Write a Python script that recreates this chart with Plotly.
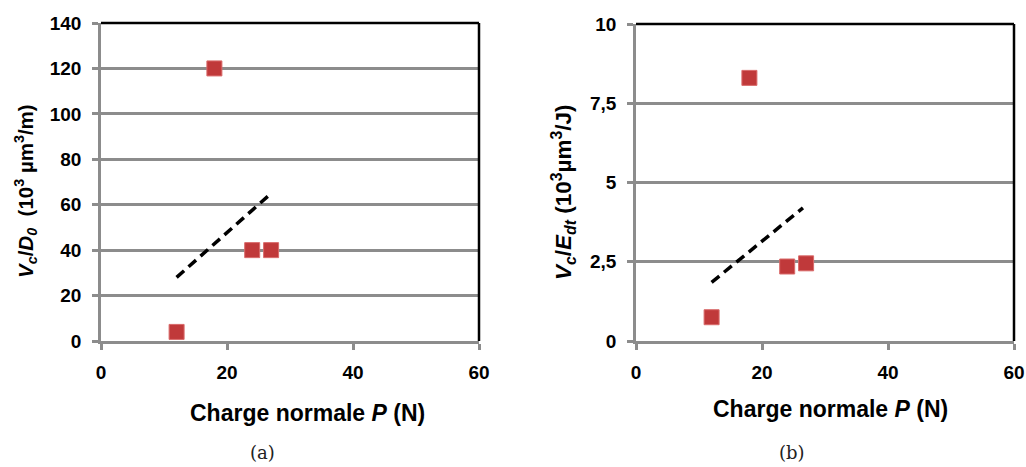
import plotly.graph_objects as go

# Data
P_points = [12, 18, 24, 27]
vc_d0 = [4, 120, 40, 40]
vc_edt = [0.75, 8.3, 2.35, 2.45]

trend_a_x = [12, 27]
trend_a_y = [28, 65]
trend_b_x = [12, 26.5]
trend_b_y = [1.85, 4.2]

x_ticks = [0, 20, 40, 60]
ya_ticks = [0, 20, 40, 60, 80, 100, 120, 140]
yb_ticks = [0, 2.5, 5, 7.5, 10]
yb_labels = ["0", "2,5", "5", "7,5", "10"]

W, H = 1026, 467
def px(x):
    return x / W
def py(y):
    return 1 - y / H

marker = dict(symbol="square", size=15, color="#c0393a",
              line=dict(color="#d96a6a", width=1))
trend_line = dict(color="black", width=3.5, dash="10px,6px")

fig = go.Figure()
fig.add_trace(go.Scatter(x=P_points, y=vc_d0, mode="markers", marker=marker,
                         xaxis="x", yaxis="y", showlegend=False))
fig.add_trace(go.Scatter(x=trend_a_x, y=trend_a_y, mode="lines", line=trend_line,
                         xaxis="x", yaxis="y", showlegend=False))
fig.add_trace(go.Scatter(x=P_points, y=vc_edt, mode="markers", marker=marker,
                         xaxis="x2", yaxis="y2", showlegend=False))
fig.add_trace(go.Scatter(x=trend_b_x, y=trend_b_y, mode="lines", line=trend_line,
                         xaxis="x2", yaxis="y2", showlegend=False))

tickfont = dict(family="Liberation Sans", size=19, color="black")
grid = "#8c8c8c"
common_x = dict(range=[0, 60], tickvals=x_ticks, showgrid=False, zeroline=False,
                showline=True, linecolor=grid, linewidth=2.5, automargin=False,
                ticks="outside", ticklen=6, tickwidth=2.5, tickcolor=grid,
                tickfont=tickfont, ticklabelstandoff=6)
common_y = dict(showgrid=True, gridcolor=grid, gridwidth=2.5, zeroline=False,
                showline=True, linecolor=grid, linewidth=2.5, automargin=False,
                ticks="outside", ticklen=6, tickwidth=2.5, tickcolor=grid,
                tickfont=tickfont, ticklabelstandoff=7)

fig.update_layout(
    width=W, height=H,
    margin=dict(l=0, r=0, t=0, b=0),
    paper_bgcolor="white", plot_bgcolor="white",
    xaxis=dict(domain=[px(101), px(479)], anchor="y", **common_x),
    yaxis=dict(domain=[py(341), py(23)], anchor="x", range=[0, 140],
               tickvals=ya_ticks, ticktext=[f"<b>{v}</b>" for v in ya_ticks], **common_y),
    xaxis2=dict(domain=[px(636), px(1014)], anchor="y2", **common_x),
    yaxis2=dict(domain=[py(341), py(24)], anchor="x2", range=[0, 10],
                tickvals=yb_ticks, ticktext=[f"<b>{t}</b>" for t in yb_labels], **common_y),
)
fig.update_xaxes(ticktext=[f"<b>{v}</b>" for v in x_ticks])

# black top/right borders
for xr, yr in (("x", "y"), ("x2", "y2")):
    fig.add_shape(type="line", xref=f"{xr} domain", yref=f"{yr} domain",
                  x0=0, x1=1, y0=1, y1=1, line=dict(color="black", width=2.5))
    fig.add_shape(type="line", xref=f"{xr} domain", yref=f"{yr} domain",
                  x0=1, x1=1, y0=0, y1=1, line=dict(color="black", width=2.5))

def note(x, y, text, font, angle=0):
    fig.add_annotation(x=px(x), y=py(y), xref="paper", yref="paper",
                       xanchor="center", yanchor="middle", textangle=angle,
                       text=text, showarrow=False, font=font)

xtitlefont = dict(family="Liberation Sans", size=23, color="black")
note(307, 413, "<b>Charge normale <i>P</i> (N)</b>", xtitlefont)
note(830, 409, "<b>Charge normale <i>P</i> (N)</b>", xtitlefont)
note(25, 191, "<b><i>V<sub>c</sub></i>/<i>D<sub>0</sub></i>  (10<sup>3</sup> µm<sup>3</sup>/m)</b>",
     dict(family="Liberation Sans", size=20.5, color="black"), -90)
note(563, 192, "<b><i>V<sub>c</sub></i>/<i>E<sub>dt</sub></i> (10<sup>3</sup>µm<sup>3</sup>/J)</b>",
     dict(family="Liberation Sans", size=22.5, color="black"), -90)

capfont = dict(family="DejaVu Serif", size=18, color="#222")
note(262, 452, "(a)", capfont)
note(792, 452, "(b)", capfont)

fig.write_html("out.html", config={"displayModeBar": False},
               post_script="document.body.style.margin='0';")
